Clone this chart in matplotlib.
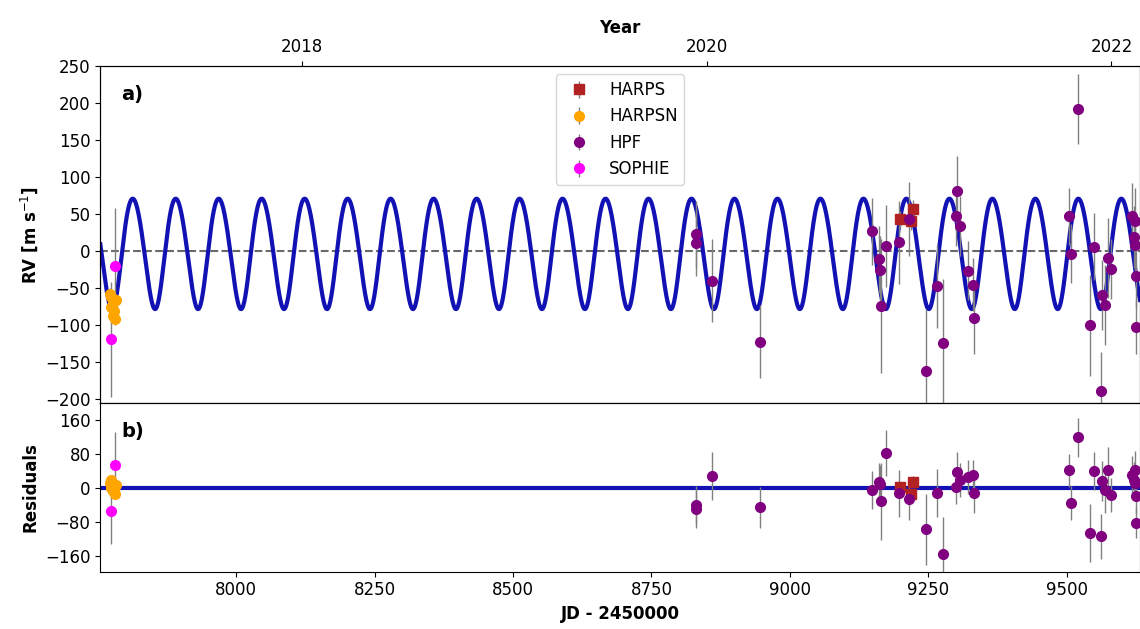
import numpy as np
import pandas as pd
import matplotlib.pyplot as plt

# Data: time is JD - 2450000, RV and residuals in m/s
harps_t = [9199.0, 9219.0, 9222.0]
harps_rv = [43, 41, 57]
harps_err = [12, 12, 12]
harps_res = [1, -15, 15]

harpsn_t = [7772, 7774, 7775, 7777, 7778, 7780, 7782, 7784]
harpsn_rv = [-57, -75, -62, -88, -70, -80, -92, -66]
harpsn_err = [8, 8, 8, 8, 8, 8, 8, 8]
harpsn_res = [12, 0, 18, -8, 5, -3, -14, 8]

hpf_t = [8829.6, 8831.0, 8860.0, 8946.0, 9148.7, 9161.4, 9163.2, 9163.9, 9174.0,
         9197.0, 9215.6, 9246.3, 9265.7, 9276.0, 9300.6, 9301.3, 9307.8, 9321.7,
         9330.5, 9331.5, 9503.7, 9507.9, 9520.0, 9541.7, 9549.4, 9560.8, 9563.9,
         9569.3, 9573.5, 9579.6, 9617.5, 9621.7, 9623.0, 9623.5, 9624.1, 9624.6]
hpf_rv = [23, 11, -40, -122, 27, -11, -25, -74, 7,
          12, 43, -162, -47, -124, 47, 81, 34, -26,
          -45, -90, 47, -3, 192, -100, 6, -189, -59,
          -73, -9, -24, 47, 19, 41, 8, -34, -102]
hpf_err = [45, 45, 56, 49, 45, 45, 45, 90, 55,
           56, 50, 84, 56, 87, 40, 47, 40, 40,
           36, 48, 39, 40, 47, 68, 45, 53, 47,
           54, 54, 40, 45, 42, 45, 40, 42, 37]
hpf_res = [-41, -49, 28, -46, -5, 14, 9, -32, 82,
           -13, -26, -98, -12, -156, 1, 38, 18, 26,
           31, -12, 42, -35, 119, -107, 39, -114, 17,
           -5, 43, -17, 30, 18, 42, 11, -19, -82]

sophie_t = [7774, 7782]
sophie_rv = [-119, -20]
sophie_err = [78, 78]
sophie_res = [-54, 55]

# Keplerian model parameters
P = 77.6          # days
K = 74.5          # m/s
ecc = 0.057
omega = np.radians(214)
t_peak = 7813.5   # time of an RV maximum

years = [2018, 2020, 2022]
year_jd = [pd.Timestamp(f'{y}-01-01').to_julian_date() - 2450000 for y in years]

xlim = (7755, 9632)

# time of periastron from the time of maximum (nu = -omega there)
nu_max = -omega
E_max = 2 * np.arctan(np.sqrt((1 - ecc) / (1 + ecc)) * np.tan(nu_max / 2))
M_max = E_max - ecc * np.sin(E_max)
tp = t_peak - M_max / (2 * np.pi) * P

t_model = np.linspace(xlim[0], xlim[1], 6000)
M = 2 * np.pi * (t_model - tp) / P
E = M.copy()
for i in range(30):
    E = E - (E - ecc * np.sin(E) - M) / (1 - ecc * np.cos(E))
nu = 2 * np.arctan2(np.sqrt(1 + ecc) * np.sin(E / 2), np.sqrt(1 - ecc) * np.cos(E / 2))
rv_model = K * (np.cos(nu + omega) + ecc * np.cos(omega))

plt.rcParams['font.size'] = 12

fig = plt.figure(figsize=(11.4, 6.29), dpi=100)
gs = fig.add_gridspec(2, 1, height_ratios=[2, 1], hspace=0,
                      left=0.088, right=1.0, top=0.895, bottom=0.091)
ax1 = fig.add_subplot(gs[0])
ax2 = fig.add_subplot(gs[1], sharex=ax1)

instruments = [
    ('HARPS', harps_t, harps_rv, harps_err, harps_res, 's', 'firebrick'),
    ('HARPSN', harpsn_t, harpsn_rv, harpsn_err, harpsn_res, 'o', 'orange'),
    ('HPF', hpf_t, hpf_rv, hpf_err, hpf_res, 'o', 'purple'),
    ('SOPHIE', sophie_t, sophie_rv, sophie_err, sophie_res, 'o', 'magenta'),
]

# panel a: RVs and model
ax1.plot(t_model, rv_model, color='#1212b4', lw=3, zorder=2)
ax1.axhline(0, color='dimgray', ls='--', lw=1.5, zorder=1)
for name, t, rv, err, res, mk, col in instruments:
    ax1.errorbar(t, rv, yerr=err, fmt=mk, color=col, ms=7, ecolor='gray',
                 elinewidth=1, capsize=0, label=name, zorder=3)
    ax2.errorbar(t, res, yerr=err, fmt=mk, color=col, ms=7, ecolor='gray',
                 elinewidth=1, capsize=0, zorder=3)

ax1.set_xlim(xlim)
ax1.set_ylim(-205, 250)
ax1.set_yticks([-200, -150, -100, -50, 0, 50, 100, 150, 200, 250])
ax1.set_ylabel('RV [m s$^{-1}$]', fontweight='bold')
ax1.tick_params(axis='x', bottom=False, labelbottom=False)
ax1.text(0.02, 0.915, 'a)', transform=ax1.transAxes, fontsize=14,
         fontweight='bold', va='center')
ax1.legend(loc='upper center', fontsize=12)

# secondary axis with calendar years
ax_top = ax1.twiny()
ax_top.set_xlim(xlim)
ax_top.set_xticks(year_jd)
ax_top.set_xticklabels([str(y) for y in years])
ax_top.set_xlabel('Year', fontweight='bold', labelpad=4)

# panel b: residuals
ax2.axhline(0, color='#1212b4', lw=3, zorder=2)
ax2.set_ylim(-198, 200)
ax2.set_yticks([-160, -80, 0, 80, 160])
ax2.set_xticks([8000, 8250, 8500, 8750, 9000, 9250, 9500])
ax2.set_ylabel('Residuals', fontweight='bold')
ax2.set_xlabel('JD - 2450000', fontweight='bold')
ax2.text(0.02, 0.83, 'b)', transform=ax2.transAxes, fontsize=14,
         fontweight='bold', va='center')

fig.align_ylabels([ax1, ax2])
fig.savefig('out.png', dpi=100)
